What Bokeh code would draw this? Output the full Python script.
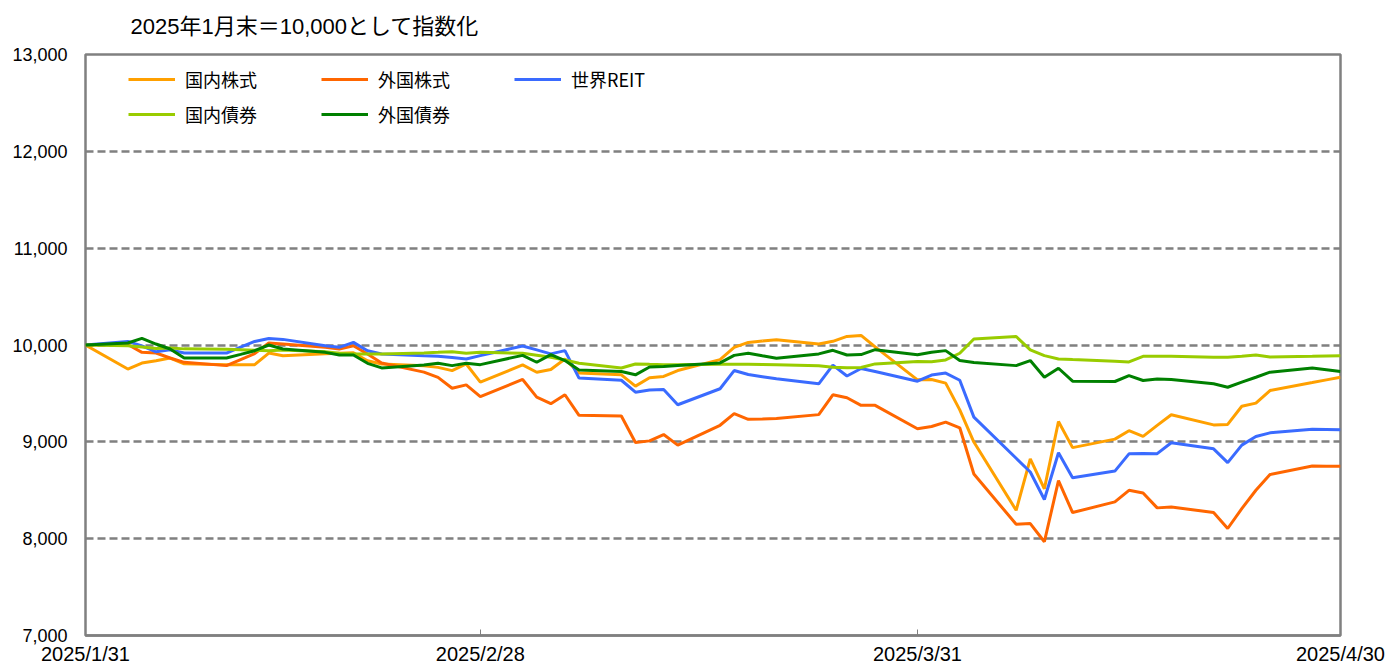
import pandas as pd
from bokeh.plotting import figure
from bokeh.models import Range1d, FixedTicker, NumeralTickFormatter, Legend, LegendItem
from bokeh.embed import file_html
from bokeh.resources import INLINE

title_text = "2025年1月末＝10,000として指数化"

dates = [
    "2025-01-31",
    "2025-02-03", "2025-02-04", "2025-02-05", "2025-02-06", "2025-02-07",
    "2025-02-10", "2025-02-11", "2025-02-12", "2025-02-13", "2025-02-14",
    "2025-02-17", "2025-02-18", "2025-02-19", "2025-02-20", "2025-02-21",
    "2025-02-24", "2025-02-25", "2025-02-26", "2025-02-27", "2025-02-28",
    "2025-03-03", "2025-03-04", "2025-03-05", "2025-03-06", "2025-03-07",
    "2025-03-10", "2025-03-11", "2025-03-12", "2025-03-13", "2025-03-14",
    "2025-03-17", "2025-03-18", "2025-03-19", "2025-03-20", "2025-03-21",
    "2025-03-24", "2025-03-25", "2025-03-26", "2025-03-27", "2025-03-28",
    "2025-03-31", "2025-04-01", "2025-04-02", "2025-04-03", "2025-04-04",
    "2025-04-07", "2025-04-08", "2025-04-09", "2025-04-10", "2025-04-11",
    "2025-04-14", "2025-04-15", "2025-04-16", "2025-04-17", "2025-04-18",
    "2025-04-21", "2025-04-22", "2025-04-23", "2025-04-24", "2025-04-25",
    "2025-04-28", "2025-04-29", "2025-04-30",
]

domestic_equity = [
    10000,
    9752, 9814, 9838, 9865, 9806,
    9797, 9797, 9797, 9917, 9890,
    9910, 9915, 9920, 9838, 9804,
    9785, 9769, 9735, 9804, 9616,
    9795, 9719, 9747, 9856, 9712,
    9692, 9575, 9661, 9675, 9736,
    9849, 9976, 10027, 10041, 10055,
    10010, 10038, 10089, 10099, 9980,
    9640, 9643, 9606, 9330, 8998,
    8293, 8825, 8515, 9210, 8940,
    9028, 9115, 9057, 9170, 9280,
    9175, 9180, 9367, 9400, 9530,
    9612, 9640, 9667,
]

foreign_equity = [
    10000,
    10005, 9924, 9917, 9866, 9821,
    9787, 9850, 9912, 10020, 10010,
    9976, 9959, 9993, 9907, 9814,
    9720, 9666, 9553, 9588, 9467,
    9644, 9462, 9394, 9486, 9274,
    9267, 8993, 9010, 9075, 8966,
    9171, 9291, 9233, 9236, 9240,
    9281, 9486, 9455, 9377, 9377,
    9135, 9158, 9203, 9145, 8668,
    8148, 8156, 7968, 8600, 8270,
    8380, 8499, 8472, 8318, 8328,
    8270, 8105, 8310, 8500, 8662,
    8750, 8749, 8748,
]

global_reit = [
    10000,
    10037, 9990, 9930, 9950, 9917,
    9917, 9977, 10037, 10068, 10058,
    9993, 9976, 10027, 9941, 9907,
    9890, 9885, 9872, 9855, 9890,
    9990, 9950, 9908, 9942, 9658,
    9636, 9513, 9535, 9541, 9383,
    9548, 9736, 9695, 9673, 9651,
    9599, 9792, 9680, 9757, 9726,
    9626, 9690, 9710, 9636, 9255,
    8830, 8688, 8405, 8887, 8629,
    8698, 8876, 8880, 8878, 8990,
    8928, 8785, 8966, 9055, 9093,
    9130, 9128, 9125,
]

domestic_bond = [
    10000,
    9993, 9980, 9965, 9970, 9960,
    9955, 9950, 9945, 9940, 9948,
    9930, 9915, 9907, 9907, 9907,
    9918, 9924, 9931, 9914, 9924,
    9915, 9895, 9873, 9845, 9811,
    9763, 9804, 9800, 9797, 9797,
    9800, 9802, 9800, 9798, 9795,
    9785, 9770, 9764, 9768, 9805,
    9829, 9828, 9846, 9915, 10062,
    10088, 9950, 9890, 9856, 9849,
    9832, 9825, 9883, 9883, 9883,
    9873, 9873, 9883, 9897, 9875,
    9883, 9887, 9890,
]

foreign_bond = [
    10000,
    10021, 10068, 10010, 9959, 9866,
    9866, 9903, 9941, 10000, 9959,
    9924, 9897, 9897, 9811, 9763,
    9794, 9811, 9787, 9811, 9797,
    9893, 9822, 9900, 9839, 9743,
    9726, 9692, 9773, 9777, 9788,
    9815, 9893, 9914, 9888, 9863,
    9908, 9945, 9897, 9901, 9952,
    9900, 9925, 9942, 9839, 9820,
    9787, 9839, 9667, 9760, 9626,
    9623, 9684, 9633, 9650, 9643,
    9599, 9564, 9616, 9667, 9719,
    9763, 9745, 9726,
]

series_names = ["国内株式", "外国株式", "世界REIT", "国内債券", "外国債券"]
series_colors = ["#FFA000", "#FF6600", "#3A6BFF", "#99CC00", "#008000"]
series_values = [domestic_equity, foreign_equity, global_reit, domestic_bond, foreign_bond]

y_ticks = [7000, 8000, 9000, 10000, 11000, 12000, 13000]
x_tick_dates = ["2025-01-31", "2025-02-28", "2025-03-31", "2025-04-30"]
x_tick_labels = ["2025/1/31", "2025/2/28", "2025/3/31", "2025/4/30"]

x = pd.to_datetime(dates)
x_ticks = [pd.Timestamp(d).value / 1e6 for d in x_tick_dates]

p = figure(
    width=1385, height=667,
    x_axis_type="datetime",
    x_range=Range1d(x[0], x[-1]),
    y_range=Range1d(y_ticks[0], y_ticks[-1]),
    output_backend="svg", toolbar_location=None,
    min_border_left=85, min_border_right=45, min_border_top=54, min_border_bottom=32,
)
p.background_fill_color = "white"
p.border_fill_color = "white"
p.outline_line_color = "#808080"
p.outline_line_width = 2.5

p.title.text = title_text
p.title.align = "left"
p.title.offset = 45
p.title.vertical_align = "top"
p.title.text_font = "'Liberation Sans', 'Noto Sans CJK JP'"
p.title.text_font_size = "22px"
p.title.text_font_style = "normal"
p.title.text_color = "#000000"
p.title.standoff = 27

# Axes
p.yaxis.ticker = FixedTicker(ticks=y_ticks)
p.yaxis.formatter = NumeralTickFormatter(format="0,0")
p.yaxis.major_tick_in = 0
p.yaxis.major_tick_out = 0
p.yaxis.minor_tick_line_color = None
p.yaxis.axis_line_color = None
p.yaxis.major_label_standoff = 18
p.yaxis.major_label_text_font = "Liberation Sans"
p.yaxis.major_label_text_font_size = "18px"
p.yaxis.major_label_text_color = "#000000"

p.xaxis.ticker = FixedTicker(ticks=x_ticks)
p.xaxis.major_label_overrides = {t: lab for t, lab in zip(x_ticks, x_tick_labels)}
p.xaxis.major_tick_in = 6
p.xaxis.major_tick_out = 0
p.xaxis.major_tick_line_color = "#808080"
p.xaxis.major_tick_line_width = 1
p.xaxis.minor_tick_line_color = None
p.xaxis.axis_line_color = "#808080"
p.xaxis.axis_line_width = 2.5
p.xaxis.major_label_standoff = 7
p.xaxis.major_label_text_font = "Liberation Sans"
p.xaxis.major_label_text_font_size = "20px"
p.xaxis.major_label_text_color = "#000000"

p.xgrid.visible = False
p.ygrid.grid_line_color = "#808080"
p.ygrid.grid_line_width = 2.5
p.ygrid.grid_line_dash = "8 4"

renderers = []
for name, color, vals in zip(series_names, series_colors, series_values):
    r = p.line(x, vals, line_color=color, line_width=3)
    renderers.append(r)

legend_style = dict(
    orientation="horizontal", spacing=64, glyph_width=47, glyph_height=20,
    label_standoff=10, padding=0, margin=0,
    border_line_alpha=0, background_fill_alpha=0,
    label_text_font="Noto Sans CJK JP", label_text_font_size="18px",
    label_text_color="#000000",
)
legend1 = Legend(items=[LegendItem(label=series_names[i], renderers=[renderers[i]]) for i in range(3)],
                 location=(43, 543), **legend_style)
legend2 = Legend(items=[LegendItem(label=series_names[i], renderers=[renderers[i]]) for i in range(3, 5)],
                 location=(43, 508), **legend_style)
p.add_layout(legend1)
p.add_layout(legend2)

open("out.html", "w").write(file_html(p, INLINE))
